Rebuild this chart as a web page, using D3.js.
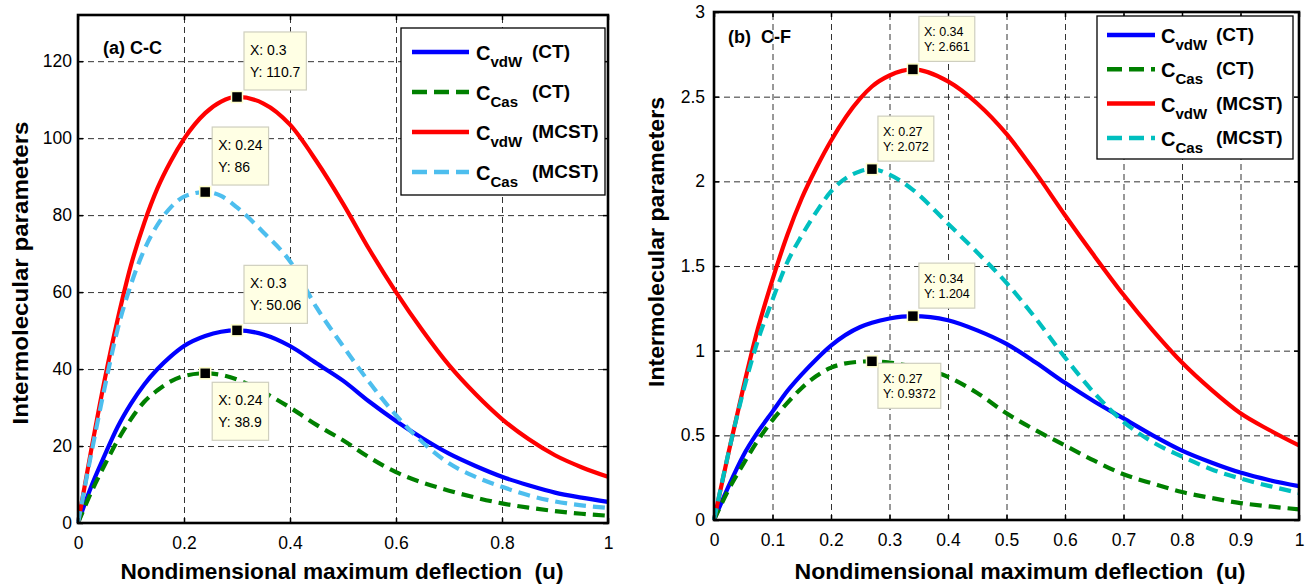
<!DOCTYPE html>
<html>
<head>
<meta charset="utf-8">
<script src="https://cdn.jsdelivr.net/npm/d3@7/dist/d3.min.js"></script>
<style>
  body { margin: 0; background: #fff; }
  svg { display: block; }
  text { font-family: "Liberation Sans", Arial, Helvetica, sans-serif; }
</style>
</head>
<body>
<svg id="fig" width="1314" height="588"></svg>
<script>
// ---- panel (a) C-C ----
var uA       = [0, 0.025, 0.05, 0.075, 0.1, 0.125, 0.15, 0.175, 0.2, 0.24, 0.27, 0.3, 0.35, 0.4, 0.45, 0.5, 0.55, 0.6, 0.65, 0.7, 0.75, 0.8, 0.85, 0.9, 0.95, 1];
var vdwCtA   = [0, 9.5, 17.5, 25, 31, 36, 40, 43.3, 46, 48.6, 49.7, 50.06, 49, 46, 41.5, 37, 31.5, 26.5, 22, 18, 14.8, 12, 9.8, 7.9, 6.6, 5.5];
var casCtA   = [0, 8, 15, 21.5, 27, 31.5, 34.5, 36.8, 38.2, 38.9, 38.5, 37.3, 34, 30, 25.5, 21.5, 17, 13.2, 10.5, 8.4, 6.6, 5.1, 4, 3.1, 2.4, 1.9];
var vdwMcA   = [0, 19, 37, 53, 67, 78, 87, 94, 99.8, 106.5, 109.5, 110.7, 109, 103.5, 94, 83, 71, 60, 50, 41, 33.5, 27, 21.8, 17.6, 14.5, 12];
var casMcA   = [0, 18, 35, 50.5, 62, 71, 77.5, 82, 84.8, 86, 85, 82, 75.5, 68, 56, 46, 36.5, 28, 21, 15.5, 12, 9.4, 7.2, 5.6, 4.6, 3.9];
var xTicksA  = [0, 0.2, 0.4, 0.6, 0.8, 1];
var yTicksA  = [0, 20, 40, 60, 80, 100, 120];
var tipXA    = [0.3, 0.24, 0.3, 0.24];
var tipYA    = [110.7, 86, 50.06, 38.9];

// ---- panel (b) C-F ----
var uB       = [0, 0.025, 0.05, 0.075, 0.1, 0.125, 0.15, 0.175, 0.2, 0.25, 0.27, 0.3, 0.34, 0.4, 0.45, 0.5, 0.55, 0.6, 0.65, 0.7, 0.75, 0.8, 0.85, 0.9, 0.95, 1];
var vdwCtB   = [0, 0.2, 0.38, 0.52, 0.64, 0.76, 0.86, 0.95, 1.03, 1.14, 1.165, 1.19, 1.204, 1.18, 1.12, 1.04, 0.93, 0.81, 0.7, 0.6, 0.5, 0.41, 0.34, 0.28, 0.235, 0.2];
var casCtB   = [0, 0.18, 0.33, 0.47, 0.59, 0.69, 0.78, 0.85, 0.9, 0.935, 0.9372, 0.93, 0.905, 0.845, 0.75, 0.63, 0.53, 0.44, 0.35, 0.27, 0.215, 0.165, 0.13, 0.1, 0.08, 0.063];
var vdwMcB   = [0, 0.4, 0.78, 1.13, 1.42, 1.68, 1.9, 2.08, 2.24, 2.49, 2.56, 2.625, 2.661, 2.59, 2.46, 2.28, 2.05, 1.8, 1.56, 1.33, 1.12, 0.93, 0.77, 0.63, 0.53, 0.44];
var casMcB   = [0, 0.4, 0.76, 1.06, 1.3, 1.52, 1.68, 1.82, 1.94, 2.06, 2.072, 2.04, 1.95, 1.75, 1.58, 1.4, 1.19, 0.96, 0.75, 0.58, 0.46, 0.375, 0.3, 0.245, 0.2, 0.16];
var xTicksB  = [0, 0.1, 0.2, 0.3, 0.4, 0.5, 0.6, 0.7, 0.8, 0.9, 1];
var yTicksB  = [0, 0.5, 1, 1.5, 2, 2.5, 3];
var tipXB    = [0.34, 0.27, 0.34, 0.27];
var tipYB    = [2.661, 2.072, 1.204, 0.9372];

// legend entries (same for both panels)
var legSubs   = ["vdW", "Cas", "vdW", "Cas"];
var legModels = ["(CT)", "(CT)", "(MCST)", "(MCST)"];

var xTitle = "Nondimensional maximum deflection  (u)";
var yTitle = "Intermolecular parameters";

var svg = d3.select("#fig");

function drawPanel(cfg) {
    var x = d3.scaleLinear().domain([0, 1]).range([cfg.left, cfg.right]);
    var y = d3.scaleLinear().domain([0, cfg.ymax]).range([cfg.bottom, cfg.top]);
    var g = svg.append("g");

    // grid
    g.append("g")
        .attr("transform", "translate(0," + cfg.bottom + ")")
        .call(d3.axisBottom(x).tickValues(cfg.xticks).tickSize(-(cfg.bottom - cfg.top)).tickFormat(""))
        .call(function(s){ s.select(".domain").remove(); })
        .selectAll("line").attr("stroke", "#333").attr("stroke-dasharray", "6,4");
    g.append("g")
        .attr("transform", "translate(" + cfg.left + ",0)")
        .call(d3.axisLeft(y).tickValues(cfg.yticks).tickSize(-(cfg.right - cfg.left)).tickFormat(""))
        .call(function(s){ s.select(".domain").remove(); })
        .selectAll("line").attr("stroke", "#333").attr("stroke-dasharray", "6,4");

    // curves
    var line = d3.line()
        .x(function(d){ return x(d[0]); })
        .y(function(d){ return y(d[1]); })
        .curve(d3.curveMonotoneX);
    cfg.series.forEach(function(s) {
        g.append("path")
            .datum(d3.zip(cfg.u, s.v))
            .attr("fill", "none")
            .attr("stroke", s.color)
            .attr("stroke-width", 4.2)
            .attr("stroke-dasharray", s.dash ? "12,7" : null)
            .attr("d", line);
    });

    // axes (ticks pointing in, MATLAB style)
    var fs = 17.5;
    var ax = g.append("g").attr("transform", "translate(0," + cfg.bottom + ")")
        .call(d3.axisBottom(x).tickValues(cfg.xticks).tickSizeInner(-5).tickSizeOuter(0).tickPadding(14).tickFormat(d3.format("")));
    var ay = g.append("g").attr("transform", "translate(" + cfg.left + ",0)")
        .call(d3.axisLeft(y).tickValues(cfg.yticks).tickSizeInner(-5).tickSizeOuter(0).tickPadding(cfg.ypad).tickFormat(d3.format("")));
    var at = g.append("g").attr("transform", "translate(0," + cfg.top + ")")
        .call(d3.axisTop(x).tickValues(cfg.xticks).tickSizeInner(-5).tickSizeOuter(0).tickFormat(""));
    var ar = g.append("g").attr("transform", "translate(" + cfg.right + ",0)")
        .call(d3.axisRight(y).tickValues(cfg.yticks).tickSizeInner(-5).tickSizeOuter(0).tickFormat(""));
    [ax, ay, at, ar].forEach(function(a) {
        a.select(".domain").remove();
        a.selectAll("line").attr("stroke", "#000").attr("stroke-width", 1.5);
        a.selectAll("text").attr("font-size", fs).attr("fill", "#000").attr("font-family", null);
    });

    g.append("rect")
        .attr("x", cfg.left).attr("y", cfg.top)
        .attr("width", cfg.right - cfg.left).attr("height", cfg.bottom - cfg.top)
        .attr("fill", "none").attr("stroke", "#000").attr("stroke-width", 2.6);

    // panel tag
    g.append("text")
        .attr("x", cfg.tagX).attr("y", cfg.tagY)
        .attr("font-size", 18).attr("font-weight", "bold")
        .style("white-space", "pre")
        .text(cfg.tag);

    // legend
    var L = cfg.leg;
    g.append("rect")
        .attr("x", L.x).attr("y", L.y).attr("width", L.w).attr("height", L.h)
        .attr("fill", "#fff").attr("stroke", "#000").attr("stroke-width", 1.3);
    cfg.series.forEach(function(s, i) {
        var ly = L.y + L.first + i * L.gap;
        g.append("line")
            .attr("x1", L.x + L.l1).attr("x2", L.x + L.l2)
            .attr("y1", ly).attr("y2", ly)
            .attr("stroke", s.color).attr("stroke-width", 4.5)
            .attr("stroke-dasharray", s.dash ? "15,7" : null);
        var t = g.append("text")
            .attr("x", L.x + L.cx).attr("y", ly + 8)
            .attr("font-weight", "bold").attr("font-size", 20);
        t.append("tspan").text("C");
        t.append("tspan").attr("dy", 7).attr("font-size", 15).text(legSubs[i]);
        g.append("text")
            .attr("x", L.x + L.mx).attr("y", ly + 6)
            .attr("font-weight", "bold").attr("font-size", 19)
            .text(legModels[i]);
    });

    // data tips
    cfg.tipX.forEach(function(tx, i) {
        var mx = x(tx), my = y(cfg.tipY[i]);
        var T = cfg.tip;
        var tg = g.append("g");
        var box = tg.append("rect")
            .attr("fill", "#ffffe4").attr("stroke", "#cfcfbf").attr("stroke-width", 1.2);
        var l1 = tg.append("text").attr("font-size", T.fs).text("X: " + tx);
        var l2 = tg.append("text").attr("font-size", T.fs).text("Y: " + cfg.tipY[i]);
        var w = Math.max(l1.node().getComputedTextLength(), l2.node().getComputedTextLength()) + 2 * T.pad;
        var bx = mx + T.dx;
        var by = cfg.tipDown[i] ? my + T.downDy : my - T.upDy - T.h;
        box.attr("x", bx).attr("y", by).attr("width", w).attr("height", T.h);
        l1.attr("x", bx + T.pad).attr("y", by + T.b1);
        l2.attr("x", bx + T.pad).attr("y", by + T.b2);
        tg.append("rect")
            .attr("x", mx - 5.5).attr("y", my - 5.5).attr("width", 11).attr("height", 11)
            .attr("fill", "#000").attr("stroke", "#ffffcc").attr("stroke-width", 1.5);
    });

    // axis titles
    svg.append("text")
        .attr("x", cfg.xtX).attr("y", 579)
        .attr("text-anchor", "middle")
        .attr("font-size", 22).attr("font-weight", "bold")
        .attr("textLength", cfg.xtLen).attr("lengthAdjust", "spacingAndGlyphs")
        .style("white-space", "pre")
        .text(xTitle);
    svg.append("text")
        .attr("transform", "translate(" + cfg.ytX + "," + cfg.ytY + ") rotate(-90)")
        .attr("text-anchor", "middle")
        .attr("font-size", 22).attr("font-weight", "bold")
        .attr("textLength", cfg.ytLen).attr("lengthAdjust", "spacingAndGlyphs")
        .text(yTitle);
}

drawPanel({
    left: 78, right: 608, top: 15, bottom: 523, ymax: 132, ypad: 6,
    u: uA, xticks: xTicksA, yticks: yTicksA,
    series: [
        { v: vdwCtA, color: "#0000ff", dash: false },
        { v: casCtA, color: "#008000", dash: true },
        { v: vdwMcA, color: "#ff0000", dash: false },
        { v: casMcA, color: "#4dbeee", dash: true }
    ],
    tag: "(a) C-C", tagX: 103, tagY: 54,
    leg: { x: 401, y: 28, w: 204, h: 167, first: 24, gap: 40, l1: 11, l2: 68, cx: 75, mx: 131 },
    tipX: tipXA, tipY: tipYA, tipDown: [false, false, false, true],
    tip: { fs: 14, pad: 6, h: 58, b1: 23, b2: 45, dx: 7, upDy: 7, downDy: 9 },
    xtX: 342, xtLen: 443, ytX: 28, ytY: 273, ytLen: 303
});

drawPanel({
    left: 714, right: 1299, top: 12, bottom: 520, ymax: 3, ypad: 9,
    u: uB, xticks: xTicksB, yticks: yTicksB,
    series: [
        { v: vdwCtB, color: "#0000ff", dash: false },
        { v: casCtB, color: "#008000", dash: true },
        { v: vdwMcB, color: "#ff0000", dash: false },
        { v: casMcB, color: "#00bfbf", dash: true }
    ],
    tag: "(b)  C-F", tagX: 728, tagY: 43,
    leg: { x: 1097, y: 16, w: 196, h: 143, first: 19, gap: 34.3, l1: 10, l2: 58, cx: 64, mx: 119 },
    tipX: tipXB, tipY: tipYB, tipDown: [false, false, false, true],
    tip: { fs: 12.5, pad: 5, h: 45, b1: 20, b2: 35, dx: 6, upDy: 8, downDy: 2 },
    xtX: 1020, xtLen: 451, ytX: 664, ytY: 242, ytLen: 290
});
</script>
</body>
</html>
